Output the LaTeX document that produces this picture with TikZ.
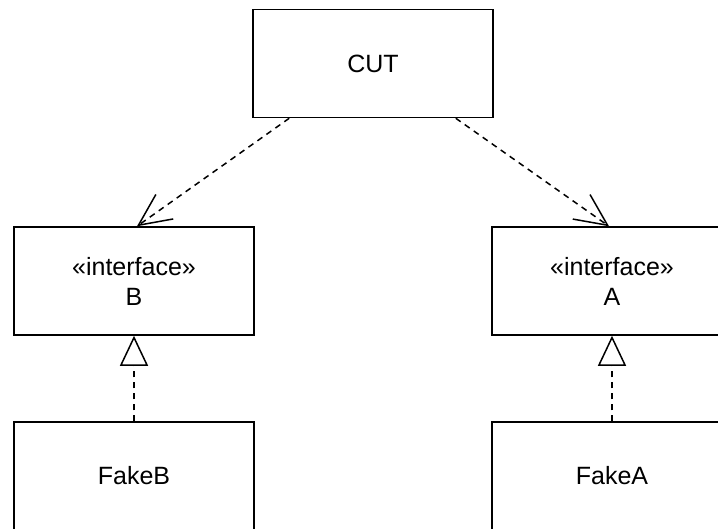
\documentclass[tikz,border=0pt]{standalone}
\usepackage{fontspec}
\setmainfont{Liberation Sans}
\usetikzlibrary{arrows.meta,positioning}

\begin{document}
\begin{tikzpicture}[x=1pt,y=1pt,line width=1.5pt,
    box/.style={rectangle,draw,minimum width=240pt,minimum height=108pt,inner sep=0pt,align=center,font=\fontsize{25}{30}\selectfont},
    uses/.style={-{Straight Barb[length=32pt,width=30pt]},dash pattern=on 6pt off 5pt},
    realizes/.style={-{Triangle[open,length=30pt,width=28pt]},dash pattern=on 6pt off 5pt}]
    \useasboundingbox (0,0) rectangle (718,-528);
    \clip (0,0) rectangle (718,-528);
    % class under test
    \node[box] (cut) at (373,-63.5) {CUT};
    % interfaces
    \node[box] (ifB) at (134,-281) {«interface»\\B};
    \node[box,right of=ifB,node distance=478pt] (ifA) {«interface»\\A};
    % fakes
    \node[box,below of=ifB,node distance=195pt] (fakeB) {FakeB};
    \node[box,below of=ifA,node distance=195pt] (fakeA) {FakeA};
    % arrows
    \draw[uses] ([xshift=37pt]cut.south west) -- ([xshift=3pt]ifB.north);
    \draw[uses] ([xshift=-38pt]cut.south east) -- ([xshift=-3pt]ifA.north);
    \draw[realizes] (fakeB) -- (ifB);
    \draw[realizes] (fakeA) -- (ifA);
\end{tikzpicture}
\end{document}
